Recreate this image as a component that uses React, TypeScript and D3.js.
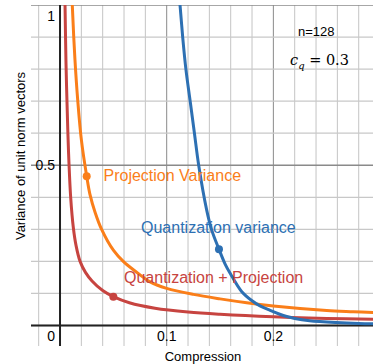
// App.tsx
import React, { useEffect, useRef } from 'react';
import * as d3 from 'd3';

// values (compression, variance)
const projectionVariance: [number, number][] = [
    [0.0108, 1.08], [0.0115, 1.0], [0.014, 0.83], [0.0166, 0.703], [0.02, 0.58],
    [0.025, 0.466], [0.028, 0.41], [0.033, 0.352], [0.039, 0.3], [0.05, 0.235],
    [0.0593, 0.2], [0.0703, 0.17], [0.084, 0.137], [0.1, 0.116], [0.125, 0.097],
    [0.15, 0.083], [0.175, 0.071], [0.2, 0.061], [0.225, 0.053], [0.25, 0.047],
    [0.275, 0.043], [0.295, 0.04],
];

const quantizationVariance: [number, number][] = [
    [0.111, 1.05], [0.1125, 1.0], [0.115, 0.9], [0.118, 0.8], [0.122, 0.7],
    [0.126, 0.6], [0.13, 0.5], [0.1375, 0.36], [0.142, 0.3], [0.149, 0.238],
    [0.155, 0.19], [0.16, 0.16], [0.17, 0.107], [0.18, 0.077], [0.1875, 0.061],
    [0.197, 0.047], [0.206, 0.035], [0.2125, 0.028], [0.22, 0.022], [0.234, 0.015],
    [0.259, 0.009], [0.28, 0.006], [0.295, 0.005],
];

const combinedVariance: [number, number][] = [
    [0.0043, 1.08], [0.0047, 1.0], [0.0056, 0.82], [0.0066, 0.69], [0.008, 0.54],
    [0.01, 0.4], [0.0125, 0.305], [0.015, 0.25], [0.0188, 0.2], [0.024, 0.165],
    [0.03, 0.139], [0.04, 0.109], [0.05, 0.09], [0.065, 0.071], [0.089, 0.054],
    [0.12, 0.042], [0.15, 0.035], [0.2, 0.027], [0.25, 0.022], [0.295, 0.019],
];

// highlighted points on each curve
const projectionPoint: [number, number] = [0.025, 0.466];
const quantizationPoint: [number, number] = [0.149, 0.238];
const combinedPoint: [number, number] = [0.05, 0.09];

const xTickLabels = ['0.1', '0.2'];
const yTickLabels = ['0.5', '1'];

const RED = '#c74440';
const BLUE = '#2d70b3';
const ORANGE = '#fa7e19';
const SANS = '"Liberation Sans", Arial, sans-serif';
const SERIF = '"DejaVu Serif", "Liberation Serif", serif';

export default function App() {
    const ref = useRef<SVGSVGElement>(null);

    useEffect(() => {
        const svg = d3.select(ref.current);
        svg.selectAll('*').remove();

        const width = 373;
        const height = 364;

        const x = d3.scaleLinear().domain([-0.0272, 0.2934]).range([31, 373]);
        const y = d3.scaleLinear().domain([-0.064, 1]).range([346, 5]);

        svg.append('rect').attr('width', width).attr('height', height).attr('fill', '#fff');

        svg.append('clipPath').attr('id', 'plot-clip')
            .append('rect')
            .attr('x', 31).attr('y', 5)
            .attr('width', 342).attr('height', 341);

        const plot = svg.append('g').attr('clip-path', 'url(#plot-clip)');

        // grid
        const xMinor = d3.range(-0.02, 0.2901, 0.02);
        const yMinor = d3.range(0, 1.001, 0.1);

        plot.selectAll('.vgrid')
            .data(xMinor)
            .enter()
            .append('line')
            .attr('x1', (d) => x(d)).attr('x2', (d) => x(d))
            .attr('y1', 5).attr('y2', 346)
            .attr('stroke', (d) => (Math.abs(d - 0.1) < 1e-6 || Math.abs(d - 0.2) < 1e-6 ? '#8a8a8a' : '#c4c4c4'))
            .attr('stroke-width', 1);

        plot.selectAll('.hgrid')
            .data(yMinor)
            .enter()
            .append('line')
            .attr('x1', 31).attr('x2', 373)
            .attr('y1', (d) => y(d)).attr('y2', (d) => y(d))
            .attr('stroke', (d) => (Math.abs(d - 0.5) < 1e-6 || Math.abs(d - 1) < 1e-6 ? '#8a8a8a' : '#c8c8c8'))
            .attr('stroke-width', 1.3);

        // axes
        plot.append('line')
            .attr('x1', x(0)).attr('x2', x(0)).attr('y1', 5).attr('y2', 346)
            .attr('stroke', '#222').attr('stroke-width', 2);
        plot.append('line')
            .attr('x1', 31).attr('x2', 373).attr('y1', y(0)).attr('y2', y(0))
            .attr('stroke', '#222').attr('stroke-width', 2);

        const line = d3.line<[number, number]>()
            .x((d) => x(d[0]))
            .y((d) => y(d[1]))
            .curve(d3.curveCatmullRom.alpha(0.5));

        const series: [[number, number][], string][] = [
            [projectionVariance, ORANGE],
            [combinedVariance, RED],
            [quantizationVariance, BLUE],
        ];

        series.forEach(([data, color]) => {
            plot.append('path')
                .datum(data)
                .attr('d', line)
                .attr('fill', 'none')
                .attr('stroke', color)
                .attr('stroke-width', 3)
                .attr('stroke-linejoin', 'round');
        });

        const points: [[number, number], string][] = [
            [projectionPoint, ORANGE],
            [combinedPoint, RED],
            [quantizationPoint, BLUE],
        ];
        plot.selectAll('.pt')
            .data(points)
            .enter()
            .append('circle')
            .attr('cx', (d) => x(d[0][0]))
            .attr('cy', (d) => y(d[0][1]))
            .attr('r', 4)
            .attr('fill', (d) => d[1]);

        // curve labels
        const labels: [string, number, number, string][] = [
            ['Projection Variance', 103.5, 181, ORANGE],
            ['Quantization variance', 141, 233, BLUE],
            ['Quantization + Projection', 124, 283, RED],
        ];
        labels.forEach(([t, lx, ly, c]) => {
            svg.append('text')
                .text(t)
                .attr('x', lx).attr('y', ly)
                .attr('fill', c)
                .style('font-family', SANS)
                .style('font-size', '16px');
        });

        // tick labels
        xTickLabels.forEach((t) => {
            svg.append('text')
                .text(t)
                .attr('x', x(+t)).attr('y', 341)
                .attr('text-anchor', 'middle')
                .style('font-family', SANS)
                .style('font-size', '14px');
        });
        yTickLabels.forEach((t) => {
            svg.append('text')
                .text(t)
                .attr('x', 55).attr('y', +t === 1 ? 21 : y(+t) + 5)
                .attr('text-anchor', 'end')
                .style('font-family', SANS)
                .style('font-size', '14px');
        });
        svg.append('text')
            .text('0')
            .attr('x', 55).attr('y', 341)
            .attr('text-anchor', 'end')
            .style('font-family', SANS)
            .style('font-size', '14px');

        // axis titles
        svg.append('text')
            .text('Compression')
            .attr('x', 203).attr('y', 361)
            .attr('text-anchor', 'middle')
            .style('font-family', SANS)
            .style('font-size', '13px');
        svg.append('text')
            .text('Variance of unit norm vectors')
            .attr('transform', 'translate(25, 156) rotate(-90)')
            .attr('text-anchor', 'middle')
            .style('font-family', SANS)
            .style('font-size', '13px');

        // notes
        svg.append('text')
            .text('n=128')
            .attr('x', 298).attr('y', 36)
            .style('font-family', SANS)
            .style('font-size', '13px');

        const cq = svg.append('text')
            .attr('x', 290).attr('y', 65)
            .attr('font-family', SERIF)
            .attr('font-size', 14.5);
        cq.append('tspan').text('c').attr('font-style', 'italic');
        cq.append('tspan').text('q').attr('font-style', 'italic')
            .attr('dy', 4).attr('font-size', 10);
        cq.append('tspan').text(' = 0.3').attr('dy', -4);
    }, []);

    return (
        <svg
            ref={ref}
            width={373}
            height={364}
            style={{ position: 'absolute', left: 0, top: 0 }}
        />
    );
}
